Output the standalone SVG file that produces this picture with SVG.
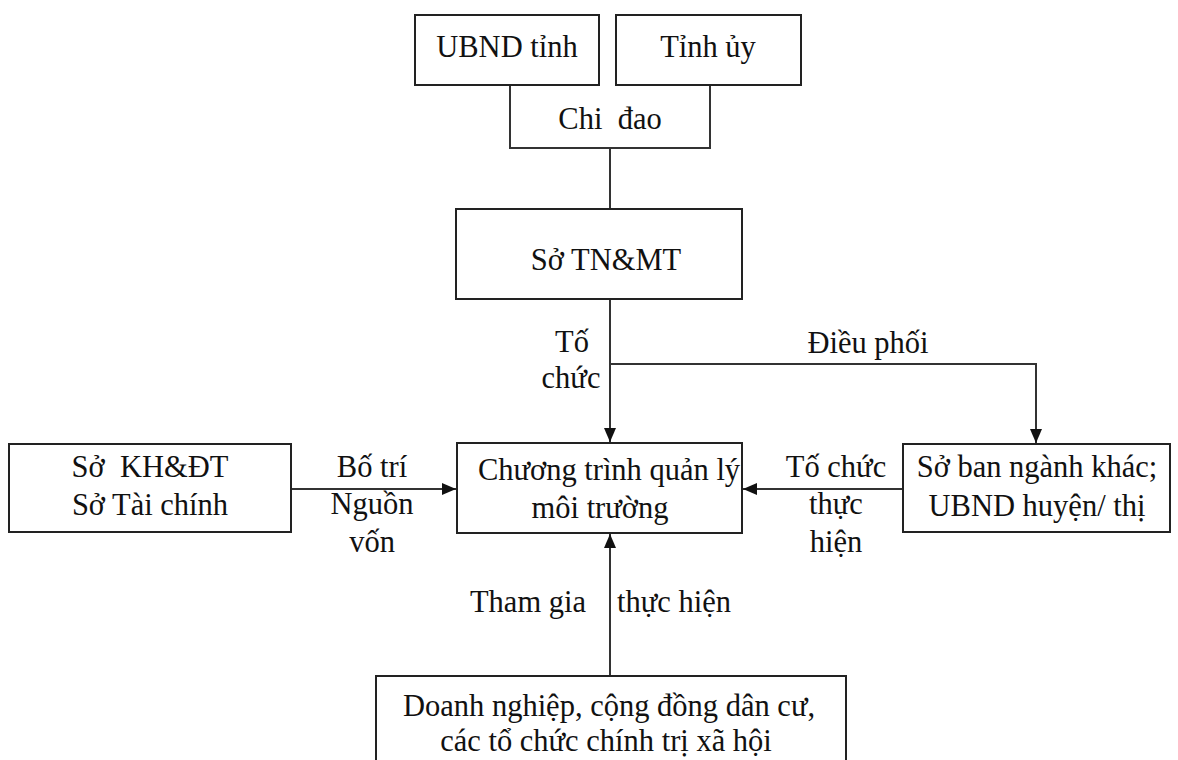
<svg xmlns="http://www.w3.org/2000/svg" width="1178" height="760" viewBox="0 0 1178 760">
<style>
.box{fill:#fff;stroke:#222;stroke-width:2}
.ln{fill:none;stroke:#333;stroke-width:2}
.t{font-family:"Liberation Serif","Times New Roman",serif;font-size:30.5px;fill:#111;text-anchor:middle;white-space:pre}
.s{text-anchor:start}
.e{text-anchor:end}
</style>
<defs>
<marker id="ah" viewBox="0 0 14 12" refX="14" refY="6" markerWidth="14" markerHeight="12" markerUnits="userSpaceOnUse" orient="auto">
<path d="M0,0 L14,6 L0,12 Z" fill="#111"/>
</marker>
</defs>
<rect width="1178" height="760" fill="#fff"/>
<g id="connectors">
<path class="ln" d="M510,85 V148 H710 V85"/>
<path class="ln" d="M610,148 V210"/>
<path class="ln" d="M610,299 V442" marker-end="url(#ah)"/>
<path class="ln" d="M610,364 H1036 V443" marker-end="url(#ah)"/>
<path class="ln" d="M292,489 H456" marker-end="url(#ah)"/>
<path class="ln" d="M903,489 H743" marker-end="url(#ah)"/>
<path class="ln" d="M610,676 V534" marker-end="url(#ah)"/>
<text class="t" x="610" y="129" xml:space="preserve">Chi  đao</text>
<text class="t" x="572" y="352">Tố</text>
<text class="t" x="571" y="388">chức</text>
<text class="t" x="868" y="353">Điều phối</text>
<text class="t" x="372" y="477">Bố trí</text>
<text class="t" x="372" y="514">Nguồn</text>
<text class="t" x="372" y="552">vốn</text>
<text class="t" x="836" y="477">Tố chức</text>
<text class="t" x="836" y="514">thực</text>
<text class="t" x="836" y="552">hiện</text>
<text class="t e" x="586" y="612">Tham gia</text>
<text class="t s" x="617" y="612">thực hiện</text>
</g>
<g id="ubnd-tinh">
<rect class="box" x="415" y="15" width="184" height="70"/>
<text class="t" x="507" y="57">UBND tỉnh</text>
</g>
<g id="tinh-uy">
<rect class="box" x="616" y="15" width="185" height="70"/>
<text class="t" x="708" y="57">Tỉnh ủy</text>
</g>
<g id="so-tnmt">
<rect class="box" x="456" y="209" width="286" height="90"/>
<text class="t" x="606" y="270">Sở TN&amp;MT</text>
</g>
<g id="chuong-trinh">
<rect class="box" x="457" y="443" width="285" height="90"/>
<text class="t" x="609" y="480">Chương trình quản lý</text>
<text class="t" x="600" y="518">môi trường</text>
</g>
<g id="so-khdt">
<rect class="box" x="9" y="444" width="282" height="88"/>
<text class="t" x="150" y="477" xml:space="preserve">Sở  KH&amp;ĐT</text>
<text class="t" x="150" y="515">Sở Tài chính</text>
</g>
<g id="so-ban-nganh">
<rect class="box" x="903" y="444" width="267" height="88"/>
<text class="t" x="1037" y="477">Sở ban ngành khác;</text>
<text class="t" x="1037" y="516">UBND huyện/ thị</text>
</g>
<g id="doanh-nghiep">
<rect class="box" x="376" y="676" width="470" height="100"/>
<text class="t" x="609" y="716">Doanh nghiệp, cộng đồng dân cư,</text>
<text class="t" x="606" y="751">các tổ chức chính trị xã hội</text>
</g>
</svg>
